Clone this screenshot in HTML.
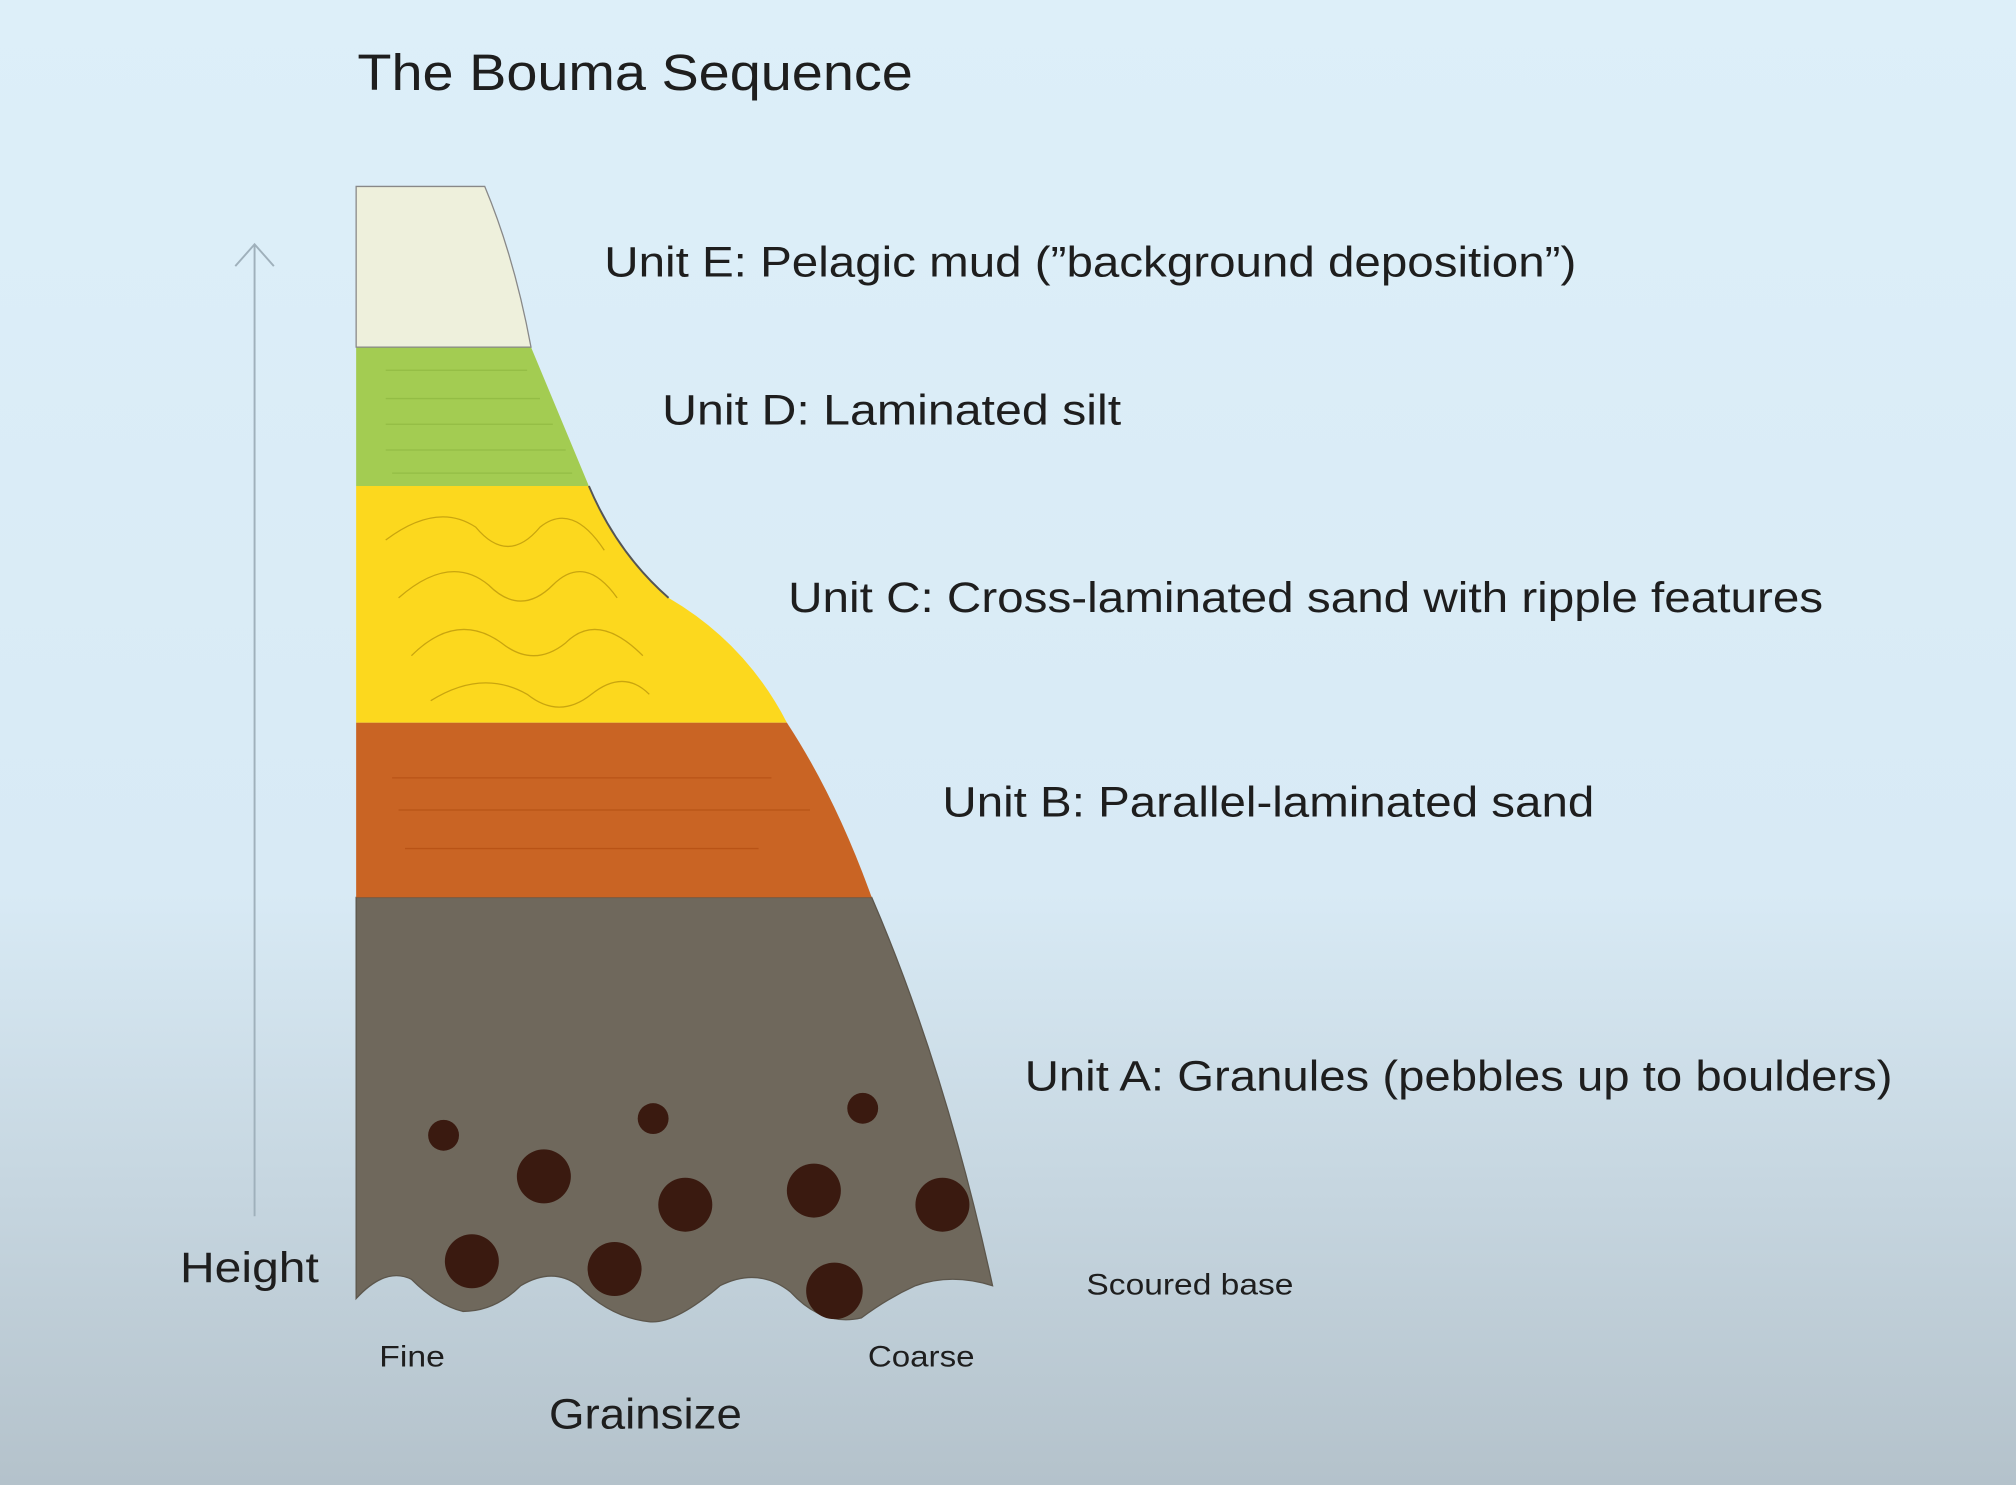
<!DOCTYPE html>
<html><head><style>
html,body{margin:0;padding:0;width:2016px;height:1485px;overflow:hidden}
svg{display:block}
text{font-family:"Liberation Sans","DejaVu Sans",sans-serif;fill:#1e1e1e}
</style></head><body>
<svg width="2016" height="1485" viewBox="0 0 1568 1155" xmlns="http://www.w3.org/2000/svg">
<defs>
<linearGradient id="bg" x1="0" y1="0" x2="0" y2="1">
<stop offset="0" stop-color="#ddeff9"/>
<stop offset="0.6" stop-color="#d8eaf5"/>
<stop offset="1" stop-color="#b4c2cb"/>
</linearGradient>
</defs>
<rect width="1568" height="1155" fill="url(#bg)"/>
<text x="278" y="70" font-size="40" textLength="432" lengthAdjust="spacingAndGlyphs">The Bouma Sequence</text>
<line x1="198" y1="190" x2="198" y2="946" stroke="#9fb0bb" stroke-width="1.5"/>
<polyline points="183,207 198,190 213,207" fill="none" stroke="#9fb0bb" stroke-width="1.5"/>
<path d="M277,698 L678,698 Q735,830 772,1000 Q740,990 712,1000 Q690,1010 670,1025 Q640,1032 615,1005 Q590,985 560,1000 Q525,1030 505,1028 Q475,1025 450,1000 Q430,985 405,1000 Q385,1020 360,1020 Q340,1015 320,995 Q300,985 277,1010 Z" fill="#6f685c" stroke="#5c564c" stroke-width="1"/>
<g fill="#3a1a10">
<circle cx="345" cy="883" r="12"/><circle cx="423" cy="915" r="21"/><circle cx="508" cy="870" r="12"/>
<circle cx="533" cy="937" r="21"/><circle cx="633" cy="926" r="21"/><circle cx="671" cy="862" r="12"/>
<circle cx="733" cy="937" r="21"/><circle cx="367" cy="981" r="21"/><circle cx="478" cy="987" r="21"/>
<circle cx="649" cy="1004" r="22"/>
</g>
<path d="M277,562 L612,562 Q650,620 678,698 L277,698 Z" fill="#c96424"/>
<g stroke="#b95316" stroke-width="1">
<line x1="305" y1="605" x2="600" y2="605"/><line x1="310" y1="630" x2="630" y2="630"/>
<line x1="315" y1="660" x2="590" y2="660"/>
</g>
<path d="M277,378 L458,378 Q480,430 520,465 Q580,500 612,562 L277,562 Z" fill="#fcd81e"/>
<path d="M458,378 Q480,430 520,465" fill="none" stroke="#555" stroke-width="1.5"/>
<g fill="none" stroke="#c9a50f" stroke-width="1">
<path d="M300,420 Q340,390 370,410 Q395,440 420,410 Q445,390 470,428"/>
<path d="M310,465 Q350,430 380,455 Q405,480 430,455 Q455,430 480,465"/>
<path d="M320,510 Q355,475 390,500 Q415,520 440,500 Q465,475 500,510"/>
<path d="M335,545 Q375,520 410,540 Q435,560 460,540 Q485,520 505,540"/>
</g>
<path d="M277,270 L413,270 L458,378 L277,378 Z" fill="#a3cc52"/>
<g stroke="#93bd45" stroke-width="1">
<line x1="300" y1="288" x2="410" y2="288"/><line x1="300" y1="310" x2="420" y2="310"/>
<line x1="300" y1="330" x2="430" y2="330"/><line x1="300" y1="350" x2="440" y2="350"/>
<line x1="305" y1="368" x2="445" y2="368"/>
</g>
<path d="M277,145 L377,145 Q400,200 413,270 L277,270 Z" fill="#eef0dc" stroke="#888" stroke-width="1"/>
<g font-size="33" lengthAdjust="spacingAndGlyphs">
<text x="470" y="215" textLength="756" lengthAdjust="spacingAndGlyphs">Unit E: Pelagic mud (”background deposition”)</text>
<text x="515" y="330" textLength="357" lengthAdjust="spacingAndGlyphs">Unit D: Laminated silt</text>
<text x="613" y="476" textLength="805" lengthAdjust="spacingAndGlyphs">Unit C: Cross-laminated sand with ripple features</text>
<text x="733" y="635" textLength="507" lengthAdjust="spacingAndGlyphs">Unit B: Parallel-laminated sand</text>
<text x="797" y="848" textLength="675" lengthAdjust="spacingAndGlyphs">Unit A: Granules (pebbles up to boulders)</text>
<text x="140" y="997" textLength="108" lengthAdjust="spacingAndGlyphs">Height</text>
<text x="427" y="1111" textLength="150" lengthAdjust="spacingAndGlyphs">Grainsize</text>
</g>
<g font-size="23" fill="#333">
<text x="845" y="1007" textLength="161" lengthAdjust="spacingAndGlyphs">Scoured base</text>
<text x="295" y="1063" textLength="51" lengthAdjust="spacingAndGlyphs">Fine</text>
<text x="675" y="1063" textLength="83" lengthAdjust="spacingAndGlyphs">Coarse</text>
</g>
</svg>
</body></html>
